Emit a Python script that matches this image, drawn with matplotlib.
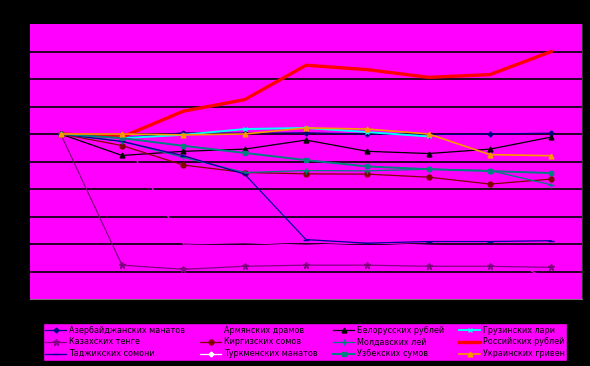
import matplotlib
matplotlib.use("Agg")
import matplotlib.pyplot as plt
import numpy as np

nan = np.nan
periods = list(range(9))

azerbaijan = [100, 98.6, 100.4, 100.3, 100.4, 100.0, 99.8, 100.0, 100.3]
armenia = [100, 100, 60.0, 60.5, 59.5, 60.5, 59.5, 59.0, 46.0]
belarus = [100, 92.2, 93.7, 94.5, 97.8, 93.7, 92.9, 94.5, 98.9]
georgia = [100, 98.5, 99.7, 101.8, 102.2, 100.7, 99.1, nan, nan]
kazakhstan = [100, 52.3, 50.8, 51.9, 52.3, 52.3, 51.9, 51.9, 51.5]
kyrgyzstan = [100, 95.8, 88.7, 86.0, 85.5, 85.4, 84.3, 81.8, 83.6]
moldova = [100, 97.3, 91.5, 86.0, 86.7, 86.6, 87.2, 86.7, 81.5]
russia = [100, 98.9, 108.3, 112.5, 125.0, 123.4, 120.6, 121.6, 130.0]
tajikistan = [100, 97.3, 92.1, 85.4, 61.6, 60.3, 60.9, 60.9, 61.2]
turkmenistan = [nan] * 9
uzbekistan = [100, 98.5, 95.7, 93.1, 90.5, 88.2, 87.2, 86.5, 85.8]
ukraine = [100, 100, 99.7, 100, 102.2, 101.8, 100, 92.5, 92.1]

# (label, data, color, marker, linewidth, markersize)
series = [
    ("Азербайджанских манатов", azerbaijan, "#000080", "D", 0.9, 2.5),
    ("Армянских драмов", armenia, "#FF00FF", None, 0.9, 3),
    ("Белорусских рублей", belarus, "#000000", "^", 0.9, 3.5),
    ("Грузинских лари", georgia, "#00FFFF", "x", 1.4, 3.5),
    ("Казахских тенге", kazakhstan, "#800080", "*", 0.9, 4.5),
    ("Киргизских сомов", kyrgyzstan, "#800000", "o", 0.9, 3.5),
    ("Молдавских лей", moldova, "#008080", "+", 0.9, 4.5),
    ("Российских рублей", russia, "#FF0000", None, 2.4, 3),
    ("Таджикских сомони", tajikistan, "#000099", "_", 0.9, 4),
    ("Туркменских манатов", turkmenistan, "#FFFFFF", "D", 0.9, 2.5),
    ("Узбекских сумов", uzbekistan, "#008080", "s", 1.4, 3.5),
    ("Украинских гривен", ukraine, "#FF9900", "^", 1.2, 3.5),
]

fig = plt.figure(figsize=(5.9, 3.66), dpi=100, facecolor="black")
ax = fig.add_axes([30 / 590, 1 - 299 / 366, 552 / 590, 275 / 366])
ax.set_facecolor("#FF00FF")

handles = {}
for label, data, color, marker, lw, ms in series:
    h, = ax.plot(periods, data, color=color, lw=lw, marker=marker, ms=ms,
                 mec=color, mfc=color, mew=1, label=label, zorder=3)
    handles[label] = h

ax.set_xlim(-0.5, 8.5)
ax.set_ylim(40, 140)
ax.set_yticks(np.arange(50, 140, 10))
ax.set_xticks(periods)
ax.grid(axis="y", color="black", lw=1.2)
ax.set_axisbelow(True)
ax.tick_params(colors="black", labelcolor="black", length=0)
for side in ["top", "left"]:
    ax.spines[side].set_visible(False)
ax.spines["right"].set_color("#333333")
ax.spines["bottom"].set_color("#777777")

# legend is filled row by row in the reference (4 columns, 3 rows)
labels = [s[0] for s in series]
order = []
for col in range(4):
    for row in range(3):
        order.append(labels[row * 4 + col])
leg = fig.legend([handles[l] for l in order], order, ncol=4,
                 loc="center", bbox_to_anchor=(305 / 590, 1 - 342 / 366),
                 fontsize=5.8, frameon=True, fancybox=False,
                 facecolor="#FF00FF", edgecolor="black", framealpha=1,
                 handlelength=2.6, columnspacing=1.95, labelspacing=0.35,
                 borderpad=0.35, handletextpad=0.3)

fig.savefig("out.png", dpi=100, facecolor="black")
